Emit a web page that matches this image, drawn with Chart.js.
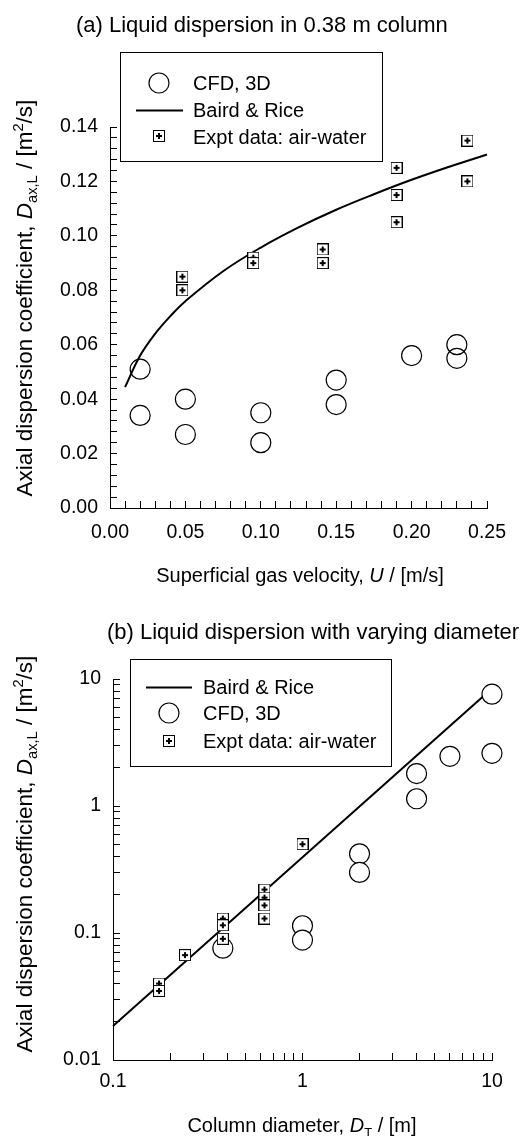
<!DOCTYPE html>
<html>
<head>
<meta charset="utf-8">
<script src="https://cdn.jsdelivr.net/npm/chart.js@4.4.1/dist/chart.umd.min.js"></script>
<style>
body{margin:0;background:#fff;font-family:"Liberation Sans",Arial,sans-serif;color:#000}
#page{position:relative;width:526px;height:1136px;overflow:hidden}
.cv{position:absolute;left:0}
.txt{position:absolute;white-space:nowrap;line-height:1}
.title{font-size:22px}
.axt{font-size:20px}
.yax{font-size:22.5px}
.xtl{transform:translateX(-50%)}
.ytl{transform:translate(-50%,-50%) rotate(-90deg)}
.legend{position:absolute;box-sizing:border-box;border:1px solid #000;background:#fff}
.lg{font-size:20px}
sub,sup{font-size:65%;line-height:0}
svg{position:absolute;left:0;top:0}
</style>
</head>
<body>
<div id="page">
  <canvas id="chartA" class="cv" width="526" height="568" style="top:0"></canvas>
  <canvas id="chartB" class="cv" width="526" height="568" style="top:568px"></canvas>

  <div class="txt title" style="left:76px;top:14px">(a) Liquid dispersion in 0.38 m column</div>
  <div class="txt axt xtl" style="left:300px;top:565px">Superficial gas velocity, <i>U</i> / [m/s]</div>
  <div class="txt yax ytl" style="left:25px;top:298px">Axial dispersion coefficient, <i>D</i><sub>ax,L</sub> / [m<sup>2</sup>/s]</div>

  <div class="txt title" style="left:107px;top:621px">(b) Liquid dispersion with varying diameter</div>
  <div class="txt axt xtl" style="left:302px;top:1115px">Column diameter, <i>D</i><sub>T</sub> / [m]</div>
  <div class="txt yax ytl" style="left:25px;top:854px">Axial dispersion coefficient, <i>D</i><sub>ax,L</sub> / [m<sup>2</sup>/s]</div>

  <!-- legends -->
  <div class="legend" style="left:120px;top:52px;width:263px;height:110px"></div>
  <div class="legend" style="left:130px;top:659px;width:262px;height:108px"></div>
  <svg width="526" height="1136">
    <circle cx="159" cy="83" r="10" fill="none" stroke="#000" stroke-width="1.2"/>
    <line x1="136" y1="110.5" x2="183" y2="110.5" stroke="#000" stroke-width="2"/>
    <rect x="153.5" y="130.5" width="11" height="11" fill="#fff" stroke="#000"/>
    <path d="M156 136h6M159 133v6" stroke="#000" stroke-width="2"/>

    <line x1="146" y1="687.5" x2="192" y2="687.5" stroke="#000" stroke-width="2"/>
    <circle cx="169" cy="713" r="10" fill="none" stroke="#000" stroke-width="1.2"/>
    <rect x="163.5" y="735.5" width="11" height="11" fill="#fff" stroke="#000"/>
    <path d="M166 741h6M169 738v6" stroke="#000" stroke-width="2"/>
  </svg>
  <div class="txt lg" style="left:193px;top:73px">CFD, 3D</div>
  <div class="txt lg" style="left:193px;top:100px">Baird &amp; Rice</div>
  <div class="txt lg" style="left:193px;top:127px">Expt data: air-water</div>
  <div class="txt lg" style="left:203px;top:677px">Baird &amp; Rice</div>
  <div class="txt lg" style="left:203px;top:703px">CFD, 3D</div>
  <div class="txt lg" style="left:203px;top:731px">Expt data: air-water</div>
</div>

<script>
// ---- (a) liquid dispersion in 0.38 m column ----
const cfdA_U   = [0.02, 0.02, 0.05, 0.05, 0.10, 0.10, 0.15, 0.15, 0.20, 0.23, 0.23];
const cfdA_D   = [0.051, 0.034, 0.040, 0.027, 0.035, 0.024, 0.047, 0.038, 0.056, 0.060, 0.055];
const exptA_U  = [0.048, 0.048, 0.095, 0.095, 0.141, 0.141, 0.19, 0.19, 0.19, 0.237, 0.237];
const exptA_D  = [0.085, 0.080, 0.092, 0.090, 0.095, 0.090, 0.125, 0.115, 0.105, 0.135, 0.120];
const bairdA_U = [0.01, 0.02, 0.03, 0.04, 0.05, 0.075, 0.10, 0.125, 0.15, 0.175, 0.20, 0.225, 0.25];
const bairdA_D = [0.0444, 0.056, 0.0641, 0.0705, 0.076, 0.087, 0.0957, 0.1031, 0.1096, 0.1153, 0.1206, 0.1254, 0.1299];
const xMajorA  = [0, 0.05, 0.10, 0.15, 0.20, 0.25];
const xLabelsA = ["0.00", "0.05", "0.10", "0.15", "0.20", "0.25"];
const yMajorA  = [0, 0.02, 0.04, 0.06, 0.08, 0.10, 0.12, 0.14];
const yLabelsA = ["0.00", "0.02", "0.04", "0.06", "0.08", "0.10", "0.12", "0.14"];

// ---- (b) liquid dispersion with varying diameter ----
const bairdB_DT = [0.1, 1, 10];
const bairdB_D  = [0.0185, 0.395, 8.4];
const cfdB_DT   = [0.38, 1, 1, 2, 2, 4, 4, 6, 10, 10];
const cfdB_D    = [0.076, 0.114, 0.088, 0.42, 0.30, 1.8, 1.14, 2.46, 2.6, 7.6];
const exptB_DT  = [0.175, 0.175, 0.24, 0.38, 0.38, 0.38, 0.63, 0.63, 0.63, 0.63, 1.0];
const exptB_D   = [0.040, 0.035, 0.067, 0.13, 0.115, 0.09, 0.22, 0.19, 0.165, 0.13, 0.50];
const xMajorB   = [0.1, 1, 10];
const xLabelsB  = ["0.1", "1", "10"];
const yMajorB   = [0.01, 0.1, 1, 10];
const yLabelsB  = ["0.01", "0.1", "1", "10"];

const FONT = '"Liberation Sans", Arial, sans-serif';

function pts(xs, ys){ return xs.map((x,i)=>({x, y: ys[i]})); }

// square with a plus, used as point style for the experimental data
function plusBox(){
  const c = document.createElement("canvas");
  c.width = 12; c.height = 12;
  const g = c.getContext("2d");
  g.fillStyle = "#fff"; g.fillRect(0,0,12,12);
  g.strokeStyle = "#000"; g.lineWidth = 1;
  g.strokeRect(0.5,0.5,11,11);
  g.fillStyle = "#000";
  g.fillRect(3,5,6,2);
  g.fillRect(5,3,2,6);
  return c;
}
const boxImg = plusBox();

// tick lists: majors from the arrays + minor ticks between them
function linTicks(majors, sub){
  const out = [];
  for(let i=0;i<majors.length;i++){
    out.push({value: majors[i], major: true});
    if(i < majors.length-1){
      const step = (majors[i+1]-majors[i])/sub;
      for(let k=1;k<sub;k++) out.push({value: +(majors[i]+k*step).toFixed(6)});
    }
  }
  return out;
}
function logTicks(majors){
  const out = [];
  for(let i=0;i<majors.length;i++){
    out.push({value: majors[i], major: true});
    if(i < majors.length-1){
      for(let k=2;k<10;k++) out.push({value: +(majors[i]*k).toPrecision(6)});
    }
  }
  return out;
}
function labelFor(majors, labels){
  return v => {
    const i = majors.findIndex(m => Math.abs(m - v) < 1e-9);
    return i >= 0 ? labels[i] : "";
  };
}

function axis(type, min, max, ticks, majors, labels, fit, pad){
  return {
    type, min, max,
    afterBuildTicks: s => { s.ticks = ticks; },
    afterFit: fit,
    border: {display: true, color: "#000", width: 1},
    grid: {drawOnChartArea: false, drawTicks: true, tickLength: -7, color: "#000", lineWidth: 1},
    ticks: {
      autoSkip: false, maxRotation: 0, padding: pad,
      color: "#000", font: {family: FONT, size: 19.5},
      callback: labelFor(majors, labels)
    }
  };
}

const common = {
  responsive: false,
  animation: false,
  devicePixelRatio: 1,
  clip: false,
  plugins: {legend: {display: false}, tooltip: {enabled: false}}
};

new Chart(document.getElementById("chartA"), {
  type: "scatter",
  data: {
    datasets: [
      {label: "Expt data: air-water", data: pts(exptA_U, exptA_D), pointStyle: boxImg, pointRadius: 6, clip: false},
      {label: "CFD, 3D", data: pts(cfdA_U, cfdA_D), pointStyle: "circle", pointRadius: 10, clip: false,
       borderColor: "#000", borderWidth: 1.2, backgroundColor: "rgba(0,0,0,0)"},
      {label: "Baird & Rice", data: pts(bairdA_U, bairdA_D), showLine: true, pointRadius: 0,
       borderColor: "#000", borderWidth: 2, tension: 0.4, fill: false}
    ]
  },
  options: {
    ...common,
    layout: {padding: {top: 127, right: 37, left: 0, bottom: 0}},
    scales: {
      x: axis("linear", 0, 0.25, linTicks(xMajorA, 5), xMajorA, xLabelsA, s => { s.height = 60; }, 20),
      y: axis("linear", 0, 0.14, linTicks(yMajorA, 5), yMajorA, yLabelsA, s => { s.width = 110; }, 19)
    }
  }
});

new Chart(document.getElementById("chartB"), {
  type: "scatter",
  data: {
    datasets: [
      {label: "Expt data: air-water", data: pts(exptB_DT, exptB_D), pointStyle: boxImg, pointRadius: 6, clip: false},
      {label: "CFD, 3D", data: pts(cfdB_DT, cfdB_D), pointStyle: "circle", pointRadius: 10, clip: false,
       borderColor: "#000", borderWidth: 1.2, backgroundColor: "#fff"},
      {label: "Baird & Rice", data: pts(bairdB_DT, bairdB_D), showLine: true, pointRadius: 0,
       borderColor: "#000", borderWidth: 2, fill: false}
    ]
  },
  options: {
    ...common,
    layout: {padding: {top: 111, right: 34, left: 0, bottom: 0}},
    scales: {
      x: axis("logarithmic", 0.1, 10, logTicks(xMajorB), xMajorB, xLabelsB, s => { s.height = 76; }, 17),
      y: axis("logarithmic", 0.01, 10, logTicks(yMajorB), yMajorB, yLabelsB, s => { s.width = 113; }, 19)
    }
  }
});
</script>
</body>
</html>
